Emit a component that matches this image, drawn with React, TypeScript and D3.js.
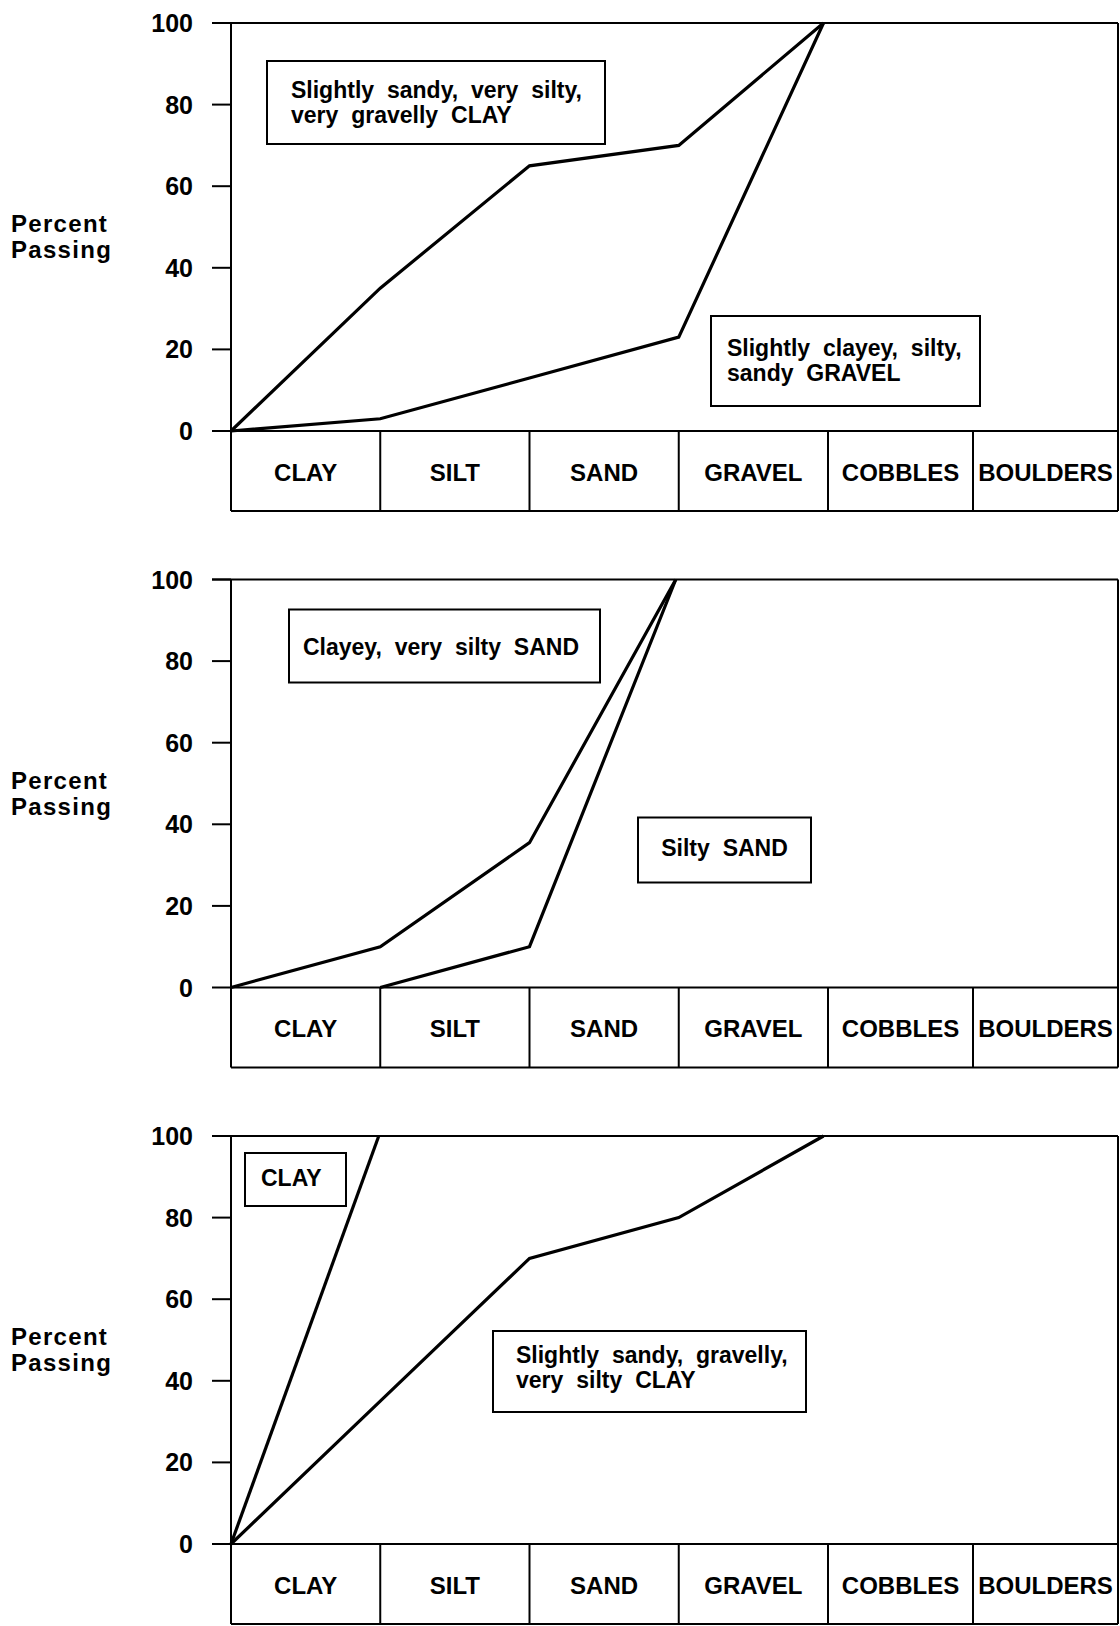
import React from "react";
import * as d3 from "d3";

// ---------- data ----------
const categories = ["CLAY", "SILT", "SAND", "GRAVEL", "COBBLES", "BOULDERS"];
const yTicks = [0, 20, 40, 60, 80, 100];
const yAxisTitle = ["Percent", "Passing"];

// x values are positions on the category axis (0 = start of CLAY, 1 = CLAY/SILT boundary, ...)
const p1GravellyClayX = [0, 1, 2, 3, 3.97];
const p1GravellyClayY = [0, 35, 65, 70, 100];
const p1SandyGravelX = [0, 1, 2, 3, 3.97];
const p1SandyGravelY = [0, 3, 13, 23, 100];

const p2SiltySandClayeyX = [0, 1, 2, 2.98];
const p2SiltySandClayeyY = [0, 10, 35.5, 100];
const p2SiltySandX = [1, 2, 2.98];
const p2SiltySandY = [0, 10, 100];

const p3ClayX = [0, 0.99];
const p3ClayY = [0, 100];
const p3SiltyClayX = [0, 1, 2, 3, 3.97];
const p3SiltyClayY = [0, 35, 70, 80, 100];

const p1Labels = [
  ["Slightly sandy, very silty,", "very gravelly CLAY"],
  ["Slightly clayey, silty,", "sandy GRAVEL"],
];
const p2Labels = [["Clayey, very silty SAND"], ["Silty SAND"]];
const p3Labels = [["CLAY"], ["Slightly sandy, gravelly,", "very silty CLAY"]];

// ---------- layout ----------
const W = 1120;
const H = 1626;
const plotLeft = 231;
const plotRight = 1118;
const tickLeft = 212;
const plotH = 408;
const bandH = 80;
const panelTops = [23, 579.5, 1136];
const FONT = "'Liberation Sans', Arial, Helvetica, sans-serif";

// box layout relative to panel top-left (plotLeft, panelTop)
type Box = { x: number; y: number; w: number; h: number; tx: number; ty: number[]; center?: boolean };
const p1Boxes: Box[] = [
  { x: 36, y: 38, w: 338, h: 83, tx: 60, ty: [67, 92] },
  { x: 480, y: 293, w: 269, h: 90, tx: 496, ty: [325, 350] },
];
const p2Boxes: Box[] = [
  { x: 58, y: 30, w: 311, h: 73, tx: 72, ty: [67] },
  { x: 407, y: 238, w: 173, h: 65, tx: 493.5, ty: [268], center: true },
];
const p3Boxes: Box[] = [
  { x: 14, y: 17, w: 101, h: 53, tx: 30, ty: [42] },
  { x: 262, y: 195, w: 313, h: 81, tx: 285, ty: [219, 244] },
];

const xScale = d3
  .scaleLinear()
  .domain([0, 4, 6])
  .range([plotLeft, 828, plotRight]);

type Series = { xs: number[]; ys: number[] };

function Panel({
  top,
  series,
  boxes,
  labels,
}: {
  top: number;
  series: Series[];
  boxes: Box[];
  labels: string[][];
}) {
  const y = d3.scaleLinear().domain([0, 100]).range([top + plotH, top]);
  const y0 = y(0);
  const bandBottom = y0 + bandH;
  const line = d3
    .line<[number, number]>()
    .x((d) => xScale(d[0]))
    .y((d) => y(d[1]));
  const bounds = d3.range(categories.length + 1);
  return (
    <g>
      {/* y axis title */}
      {yAxisTitle.map((t, k) => (
        <text
          key={t}
          x={11}
          y={top + 209 + k * 26}
          fontFamily={FONT}
          fontWeight="bold"
          fontSize={24}
          letterSpacing={1.3}
          fill="#000"
        >
          {t}
        </text>
      ))}
      {/* ticks */}
      {yTicks.map((t) => (
        <g key={t}>
          <line x1={tickLeft} x2={plotLeft} y1={y(t)} y2={y(t)} stroke="#000" strokeWidth={2} />
          <text
            x={193}
            y={y(t)}
            textAnchor="end"
            dominantBaseline="central"
            fontFamily={FONT}
            fontWeight="bold"
            fontSize={25}
            fill="#000"
          >
            {t}
          </text>
        </g>
      ))}
      {/* frame */}
      <line x1={tickLeft} x2={plotRight} y1={y(100)} y2={y(100)} stroke="#000" strokeWidth={2} />
      <line x1={plotLeft} x2={plotRight} y1={y0} y2={y0} stroke="#000" strokeWidth={2} />
      <line x1={plotLeft} x2={plotRight} y1={bandBottom} y2={bandBottom} stroke="#000" strokeWidth={2} />
      <line x1={plotLeft} x2={plotLeft} y1={y(100)} y2={bandBottom} stroke="#000" strokeWidth={2} />
      <line x1={plotRight} x2={plotRight} y1={y(100)} y2={bandBottom} stroke="#000" strokeWidth={2} />
      {bounds.slice(1, -1).map((b) => (
        <line key={b} x1={xScale(b)} x2={xScale(b)} y1={y0} y2={bandBottom} stroke="#000" strokeWidth={2} />
      ))}
      {categories.map((c, i) => (
        <text
          key={c}
          x={(xScale(i) + xScale(i + 1)) / 2}
          y={y0 + bandH / 2 + 1}
          textAnchor="middle"
          dominantBaseline="central"
          fontFamily={FONT}
          fontWeight="bold"
          fontSize={24}
          fill="#000"
        >
          {c}
        </text>
      ))}
      {/* curves */}
      {series.map((s, i) => (
        <path
          key={i}
          d={line(s.xs.map((v, k) => [v, s.ys[k]] as [number, number])) || ""}
          fill="none"
          stroke="#000"
          strokeWidth={3.2}
          strokeLinejoin="miter"
        />
      ))}
      {/* annotation boxes */}
      {boxes.map((b, i) => (
        <g key={i}>
          <rect
            x={plotLeft + b.x}
            y={top + b.y}
            width={b.w}
            height={b.h}
            fill="#fff"
            stroke="#000"
            strokeWidth={2}
          />
          {labels[i].map((ln, k) => (
            <text
              key={k}
              x={plotLeft + b.tx}
              y={top + b.ty[k]}
              textAnchor={b.center ? "middle" : "start"}
              dominantBaseline="central"
              fontFamily={FONT}
              fontWeight="bold"
              fontSize={23}
              wordSpacing={6.5}
              fill="#000"
            >
              {ln}
            </text>
          ))}
        </g>
      ))}
    </g>
  );
}

export default function App() {
  return (
    <svg
      width={W}
      height={H}
      viewBox={`0 0 ${W} ${H}`}
      style={{ position: "absolute", left: 0, top: 0, background: "#fff" }}
    >
      <rect x={0} y={0} width={W} height={H} fill="#fff" />
      <Panel
        top={panelTops[0]}
        series={[
          { xs: p1GravellyClayX, ys: p1GravellyClayY },
          { xs: p1SandyGravelX, ys: p1SandyGravelY },
        ]}
        boxes={p1Boxes}
        labels={p1Labels}
      />
      <Panel
        top={panelTops[1]}
        series={[
          { xs: p2SiltySandClayeyX, ys: p2SiltySandClayeyY },
          { xs: p2SiltySandX, ys: p2SiltySandY },
        ]}
        boxes={p2Boxes}
        labels={p2Labels}
      />
      <Panel
        top={panelTops[2]}
        series={[
          { xs: p3ClayX, ys: p3ClayY },
          { xs: p3SiltyClayX, ys: p3SiltyClayY },
        ]}
        boxes={p3Boxes}
        labels={p3Labels}
      />
    </svg>
  );
}
